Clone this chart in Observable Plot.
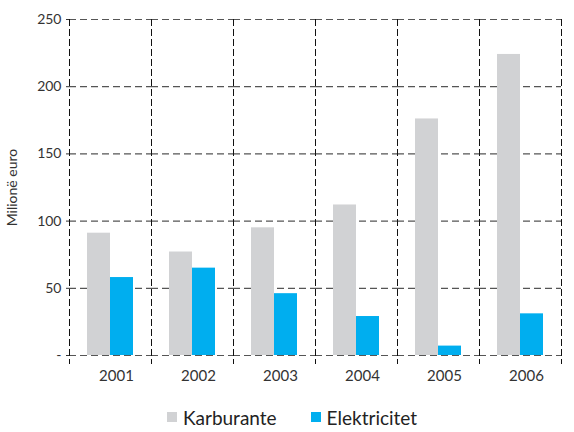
<!DOCTYPE html>
<html><head><meta charset="utf-8">
<script src="https://cdn.jsdelivr.net/npm/d3@7"></script>
<script src="https://cdn.jsdelivr.net/npm/@observablehq/plot@0.6"></script>
<style>
body{margin:0;background:#fff;font-family:Lato,"DejaVu Sans",sans-serif;color:#222;}
#legend{display:flex;align-items:center;height:34px;padding-left:167px;font-size:19px;}
#legend .item{display:flex;align-items:center;margin-right:34px;}
#legend .sw{width:10px;height:10px;margin-right:6px;}
</style></head><body>
<div id="chart"></div>
<div id="legend"></div>
<script>
const years = ["2001","2002","2003","2004","2005","2006"];
const seriesNames = ["Karburante","Elektricitet"];
const karburante = [91,77,95,112,176,224];
const elektricitet = [58,65,46,29,7,31];
const colors = ["#d1d2d4","#00aeef"];
const yTicks = [0,50,100,150,200,250];

const data = years.flatMap((yr,i)=>[
  {year:yr, series:seriesNames[0], value:karburante[i]},
  {year:yr, series:seriesNames[1], value:elektricitet[i]}
]);

const plot = Plot.plot({
  width:574, height:400,
  marginLeft:68, marginRight:12, marginTop:19, marginBottom:45,
  style:{fontFamily:"Lato, 'DejaVu Sans', sans-serif", fontSize:"14px", color:"#333", background:"#fff"},
  fx:{domain:years, padding:0, label:null},
  x:{domain:seriesNames, paddingInner:0, paddingOuter:0.71, axis:null},
  y:{domain:[0,250]},
  color:{domain:seriesNames, range:colors},
  marks:[
    Plot.gridY(yTicks,{stroke:"#555", strokeOpacity:1, strokeWidth:1.2, strokeDasharray:"7,4"}),
    Plot.frame({anchor:"left", stroke:"#111", strokeDasharray:"6,4", insetBottom:-8}),
    Plot.frame({anchor:"right", stroke:"#111", strokeDasharray:"6,4", insetBottom:-8}),
    Plot.barY(data,{fx:"year", x:"series", y:"value", fill:"series"}),
    Plot.axisY(yTicks,{tickFormat:d=>d===0?"-":String(d), tickSize:3, tickPadding:5, fontSize:14,
      label:"Milionë euro", labelAnchor:"center", labelOffset:62, labelArrow:false}),
    Plot.axisFx({anchor:"bottom", tickSize:0, tickPadding:15, fontSize:15, dx:6, label:null})
  ]
});
document.getElementById("chart").appendChild(plot);

const leg = document.getElementById("legend");
seriesNames.forEach((s,i)=>{
  const it = document.createElement("div"); it.className="item";
  const sw = document.createElement("div"); sw.className="sw"; sw.style.background=colors[i];
  const t = document.createElement("span"); t.textContent=s;
  it.appendChild(sw); it.appendChild(t); leg.appendChild(it);
});
</script>
</body></html>
